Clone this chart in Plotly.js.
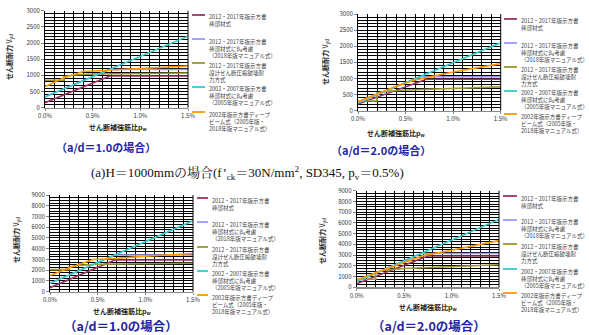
<!DOCTYPE html>
<html><head><meta charset="utf-8">
<script src="https://cdn.plot.ly/plotly-3.0.1.min.js"></script>
<style>html,body{margin:0;padding:0;background:#fff}#c{width:589px;height:335px}</style>
</head><body><div id="c"></div>
<script>
// ---- data (x: せん断補強筋比 pw [%], y: せん断耐力 Vyd) ----
const seriesNames = [
  "2012・2017年版示方書<br>棒部材式",
  "2012・2017年版示方書<br>棒部材式にβ<sub>a</sub>考慮<br>（2018年版マニュアル式）",
  "2012・2017年版示方書<br>設計せん断圧縮破壊耐<br>力方式",
  "2002・2007年版示方書<br>棒部材式にβ<sub>a</sub>考慮<br>（2005年版マニュアル式）",
  "2002年版示方書ディープ<br>ビーム式（2005年版・<br>2018年版マニュアル式）"
];
const seriesColors = ["#993366", "#9999ff", "#99992e", "#33cccc", "#ff9900"];
const xTickVals = [0, 0.5, 1.0, 1.5];
const xTickText = ["0.0%", "0.5%", "1.0%", "1.5%"];

// chart 1: H=1000, a/d=1.0
const c1_s1_x = [0, 0.68, 1.5],  c1_s1_y = [155, 980, 980];
const c1_s2_x = [0, 0.68, 1.5],  c1_s2_y = [335, 1180, 1180];
const c1_s3_x = [0, 0.2, 0.2, 0.3, 0.5, 1.0, 1.5], c1_s3_y = [850, 850, 960, 1010, 1040, 1060, 1075];
const c1_s4_x = [0, 1.5],        c1_s4_y = [335, 2210];
const c1_s5_x = [0, 0.2, 0.4, 0.7, 1.0, 1.5], c1_s5_y = [650, 930, 1120, 1170, 1220, 1290];
// chart 2: a/d=2.0
const c2_s1_x = [0, 0.72, 1.5],  c2_s1_y = [205, 975, 975];
const c2_s2_x = [0, 0.65, 1.5],  c2_s2_y = [250, 1055, 1055];
const c2_s3_x = [0, 0.2, 0.2, 0.3, 0.5, 1.0, 1.5], c2_s3_y = [300, 300, 550, 600, 640, 700, 740];
const c2_s4_x = [0, 1.5],        c2_s4_y = [250, 2110];
const c2_s5_x = [0, 0.2, 0.4, 0.6, 0.8, 1.0, 1.5], c2_s5_y = [280, 520, 760, 950, 1080, 1200, 1460];
// chart 3: a/d=1.0 (larger)
const c3_s1_x = [0, 0.68, 1.5],  c3_s1_y = [370, 2950, 2950];
const c3_s2_x = [0, 0.68, 1.5],  c3_s2_y = [780, 3420, 3420];
const c3_s3_x = [0, 0.2, 0.2, 0.3, 0.5, 1.0, 1.5], c3_s3_y = [2050, 2050, 2300, 2450, 2550, 2620, 2650];
const c3_s4_x = [0, 1.5],        c3_s4_y = [780, 6600];
const c3_s5_x = [0, 0.2, 0.45, 0.7, 1.0, 1.5], c3_s5_y = [1500, 2200, 3000, 3100, 3300, 3550];
// chart 4: a/d=2.0 (larger)
const c4_s1_x = [0, 0.75, 1.5],  c4_s1_y = [340, 2920, 2920];
const c4_s2_x = [0, 0.68, 1.5],  c4_s2_y = [530, 3150, 3150];
const c4_s3_x = [0, 0.2, 0.2, 0.3, 0.5, 1.0, 1.5], c4_s3_y = [750, 750, 1400, 1600, 1750, 1950, 2100];
const c4_s4_x = [0, 1.5],        c4_s4_y = [530, 6330];
const c4_s5_x = [0, 0.2, 0.5, 0.7, 1.0, 1.5], c4_s5_y = [700, 1350, 2350, 2950, 3450, 4350];

const chartXs = [
  [c1_s1_x, c1_s2_x, c1_s3_x, c1_s4_x, c1_s5_x],
  [c2_s1_x, c2_s2_x, c2_s3_x, c2_s4_x, c2_s5_x],
  [c3_s1_x, c3_s2_x, c3_s3_x, c3_s4_x, c3_s5_x],
  [c4_s1_x, c4_s2_x, c4_s3_x, c4_s4_x, c4_s5_x]
];
const chartYs = [
  [c1_s1_y, c1_s2_y, c1_s3_y, c1_s4_y, c1_s5_y],
  [c2_s1_y, c2_s2_y, c2_s3_y, c2_s4_y, c2_s5_y],
  [c3_s1_y, c3_s2_y, c3_s3_y, c3_s4_y, c3_s5_y],
  [c4_s1_y, c4_s2_y, c4_s3_y, c4_s4_y, c4_s5_y]
];
const yMax = [3000, 3000, 9000, 9000];
const yMajor = [500, 500, 1000, 1000];
const yMinor = [100, 100, 250, 250];
const captions = ["（a/d＝1.0の場合）", "（a/d＝2.0の場合）", "（a/d＝1.0の場合）", "（a/d＝2.0の場合）"];
const mainCaption = "(a)H＝1000mmの場合(f’<sub>ck</sub>＝30N/mm<sup>2</sup>, SD345, p<sub>v</sub>＝0.5%)";

// ---- layout helpers (pixel -> paper) ----
const W = 589, H = 335;
const px = v => v / W, py = v => 1 - v / H;
const plotBox = [ // [x0, x1, yTop, yBottom] in pixels
  [45, 188, 10.7, 107.7],
  [358, 500.7, 14, 110.7],
  [50, 193, 195, 291.7],
  [356.7, 499, 190.7, 287.3]
];
const legendPos = [ // [lineX0, lineX1, textX, entry ys, font size]
  [192, 205, 207, [15, 39, 63, 87, 112], 5.5],
  [504, 517, 519, [19, 43, 67, 91, 114], 5.5],
  [197, 208, 210, [198, 222, 247, 271, 295], 5.5],
  [503, 517, 519, [196, 220, 244, 269, 293], 5.5]
];
const yTitlePos = [[10, 57], [325, 62], [16, 240], [322, 241]];
const xTitlePos = [[118, 127], [396, 133], [122, 311], [428, 307]];
const captionPos = [[106, 147, 11], [381, 150, 11], [121, 325, 12.5], [429, 325, 12.5]];

const FONT = "Noto Sans CJK JP, Noto Sans, sans-serif";
const traces = [], annotations = [], shapes = [];
const layout = {
  width: W, height: H, margin: {l: 0, r: 0, t: 0, b: 0},
  paper_bgcolor: "#fff", plot_bgcolor: "#fff", showlegend: false,
  font: {family: FONT, size: 6, color: "#333"}
};

for (let c = 0; c < 4; c++) {
  const sfx = c === 0 ? "" : String(c + 1);
  const b = plotBox[c];
  layout["xaxis" + sfx] = {
    domain: [px(b[0]), px(b[1])], anchor: "y" + sfx, range: [0, 1.5],
    tickvals: xTickVals, ticktext: xTickText, tickfont: {size: 6, color: "#333"},
    ticks: "outside", ticklen: 2, tickcolor: "#888",
    showgrid: true, gridcolor: "#000", gridwidth: 1,
    minor: {dtick: 0.1, showgrid: true, gridcolor: "#000", gridwidth: 1, ticks: ""},
    showline: true, linecolor: "#888", linewidth: 1.5, zeroline: false, fixedrange: true
  };
  layout["yaxis" + sfx] = {
    domain: [py(b[3]), py(b[2])], anchor: "x" + sfx, range: [0, yMax[c]],
    dtick: yMajor[c], tickfont: {size: 6, color: "#333"},
    ticks: "outside", ticklen: 3, tickcolor: "#888",
    showgrid: true, gridcolor: "#000", gridwidth: 1,
    minor: {dtick: yMinor[c], showgrid: true, gridcolor: "#000", gridwidth: 1, ticks: ""},
    showline: true, linecolor: "#000", linewidth: 1, zeroline: false, fixedrange: true
  };
  shapes.push({type: "line", xref: "paper", yref: "paper", x0: px(b[1]), x1: px(b[1]),
    y0: py(b[3]), y1: py(b[2]), line: {color: "#000", width: 1}});
  const lp = legendPos[c];
  for (let s = 0; s < 5; s++) {
    traces.push({
      type: "scatter", mode: "lines", x: chartXs[c][s], y: chartYs[c][s],
      xaxis: "x" + sfx, yaxis: "y" + sfx, name: seriesNames[s],
      line: {color: seriesColors[s], width: 1.6}, hoverinfo: "skip"
    });
    shapes.push({type: "line", xref: "paper", yref: "paper",
      x0: px(lp[0]), x1: px(lp[1]), y0: py(lp[3][s]), y1: py(lp[3][s]),
      line: {color: seriesColors[s], width: 1.8}});
    annotations.push({xref: "paper", yref: "paper", x: px(lp[2]), y: py(lp[3][s] - 3.5),
      xanchor: "left", yanchor: "top", align: "left", showarrow: false,
      text: seriesNames[s], font: {size: lp[4], color: "#444", family: FONT}});
  }
  annotations.push({xref: "paper", yref: "paper", x: px(yTitlePos[c][0]), y: py(yTitlePos[c][1]),
    xanchor: "center", yanchor: "middle", textangle: -90, showarrow: false,
    text: "<b>せん断耐力 </b>V<sub>yd</sub>", font: {size: 7, color: "#222", family: FONT}});
  annotations.push({xref: "paper", yref: "paper", x: px(xTitlePos[c][0]), y: py(xTitlePos[c][1]),
    xanchor: "center", yanchor: "middle", showarrow: false,
    text: "<b>せん断補強筋比p<sub>w</sub></b>", font: {size: 7, color: "#222", family: FONT}});
  annotations.push({xref: "paper", yref: "paper", x: px(captionPos[c][0]), y: py(captionPos[c][1]),
    xanchor: "center", yanchor: "middle", showarrow: false,
    text: "<b>" + captions[c] + "</b>", font: {size: captionPos[c][2], color: "#2424a8", family: FONT}});
}
annotations.push({xref: "paper", yref: "paper", x: px(247), y: py(173),
  xanchor: "center", yanchor: "middle", showarrow: false, text: mainCaption,
  font: {size: 13, color: "#111", family: "Liberation Serif, Noto Serif CJK JP, Noto Sans CJK JP, serif"}});

layout.annotations = annotations;
layout.shapes = shapes;
Plotly.newPlot("c", traces, layout, {displayModeBar: false, staticPlot: true});
</script></body></html>
